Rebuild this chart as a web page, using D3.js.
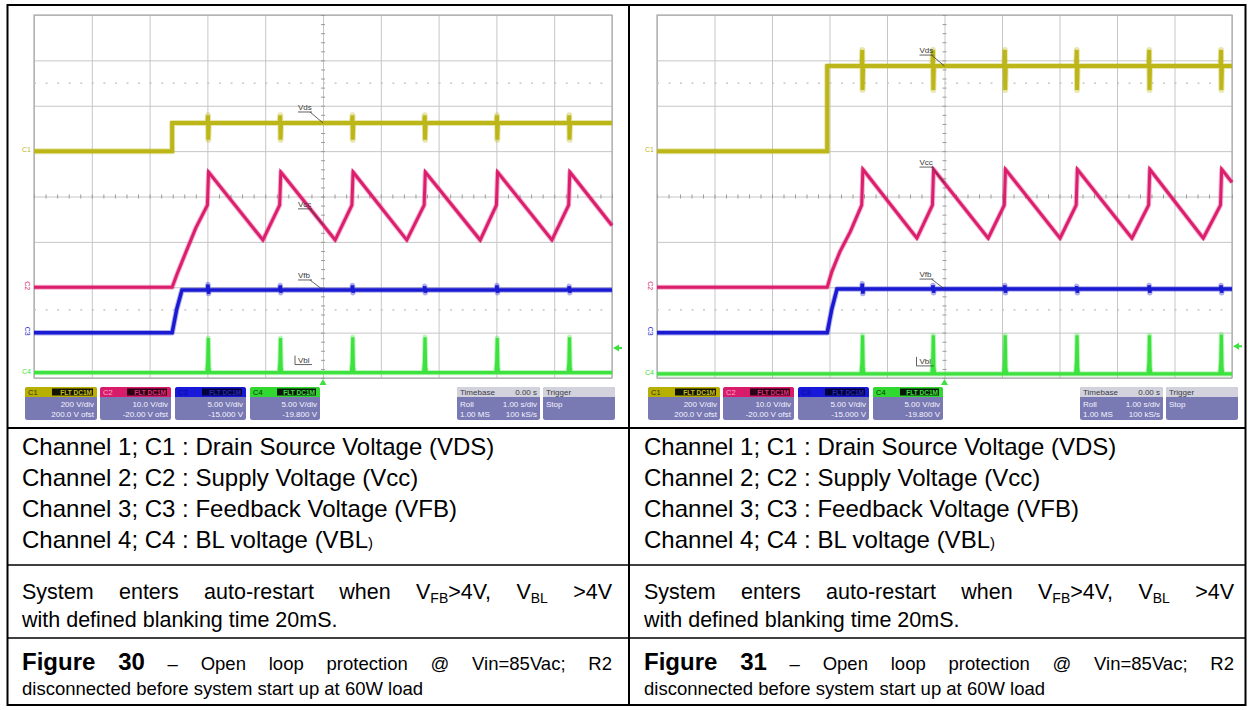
<!DOCTYPE html>
<html><head><meta charset="utf-8">
<script src="https://cdn.jsdelivr.net/npm/d3@7/dist/d3.min.js"></script>
<style>html,body{margin:0;padding:0;background:#fff;} svg{display:block;}</style>
</head><body>
<svg id="chart" width="1248" height="710"></svg>
<script>
// ---------------- data ----------------
const channelIds = ["C1", "C2", "C3", "C4"];
const traceNames = ["Vds", "Vcc", "Vfb", "Vbl"];
const voltsPerDiv = [200, 10, 5, 5];
const offsetVolts = [200, -20, -15, -19.8];
const scaleLabels = ["200 V/div", "10.0 V/div", "5.00 V/div", "5.00 V/div"];
const offsetLabels = ["200.0 V ofst", "-20.00 V ofst", "-15.000 V", "-19.800 V"];
const couplingLabel = "FLT DC1M";
const timebaseLabels = ["Timebase", "0.00 s", "Roll", "1.00 s/div", "1.00 MS", "100 kS/s"];
const triggerLabels = ["Trigger", "Stop"];
const timeTicks = [0, 1, 2, 3, 4, 5, 6, 7, 8, 9, 10];   // seconds (1 s/div)
const divTicks = [-4, -3, -2, -1, 0, 1, 2, 3, 4];
const markerTime = 5;                                   // cursor/label time
const figureNumbers = ["30", "31"];
const triggerLevels = [3.1, 3.3];                       // C4 volts

// Figure 30  [time s, volts]
const fig30Vds = [[0,0],[2.39,0],[2.39,124],
  [3.00,124],[3.01,158],[3.015,50],[3.025,124],
  [4.25,124],[4.26,158],[4.265,50],[4.275,124],
  [5.50,124],[5.51,158],[5.515,50],[5.525,124],
  [6.75,124],[6.76,158],[6.765,50],[6.775,124],
  [8.00,124],[8.01,158],[8.015,50],[8.025,124],
  [9.25,124],[9.26,158],[9.265,50],[9.275,124],
  [10,124]];
const fig30Vcc = [[0,0],[2.39,0],[2.49,3.4],[2.63,7.8],[2.80,13.1],[3.00,18.1],[3.02,25.4],
  [3.96,10.4],[4.25,18.1],[4.27,25.4],
  [5.21,10.4],[5.50,18.1],[5.52,25.4],
  [6.45,10.4],[6.75,18.1],[6.77,25.4],
  [7.72,10.4],[8.00,18.1],[8.02,25.4],
  [8.96,10.4],[9.25,18.1],[9.27,25.4],
  [10,13.6]];
const fig30Vfb = [[0,0],[2.39,0],[2.47,2.6],[2.56,4.7],
  [3.00,4.7],[3.01,5.3],[3.02,4.3],[3.03,4.7],
  [4.25,4.7],[4.26,5.2],[4.27,4.4],[4.28,4.7],
  [5.50,4.7],[5.51,5.2],[5.52,4.4],[5.53,4.7],
  [6.75,4.7],[6.76,5.1],[6.77,4.4],[6.78,4.7],
  [8.00,4.7],[8.01,5.2],[8.02,4.4],[8.03,4.7],
  [9.25,4.7],[9.26,5.1],[9.27,4.4],[9.28,4.7],
  [10,4.7]];
const fig30Vbl = [[0,0.4],
  [2.99,0.4],[3.005,1.5],[3.015,4.2],[3.025,1.0],[3.04,0.4],
  [4.24,0.4],[4.255,1.5],[4.265,4.2],[4.275,1.0],[4.29,0.4],
  [5.49,0.4],[5.505,1.5],[5.515,4.3],[5.525,1.0],[5.54,0.4],
  [6.74,0.4],[6.755,1.5],[6.765,4.3],[6.775,1.0],[6.79,0.4],
  [7.99,0.4],[8.005,1.5],[8.015,4.2],[8.025,1.0],[8.04,0.4],
  [9.24,0.4],[9.255,1.5],[9.265,4.3],[9.275,1.0],[9.29,0.4],
  [10,0.4]];

// Figure 31  [time s, volts]
const fig31Vds = [[0,0],[2.96,0],[2.96,375],
  [3.56,375],[3.57,446],[3.575,270],[3.585,375],
  [4.79,375],[4.80,446],[4.805,270],[4.815,375],
  [6.04,375],[6.05,446],[6.055,270],[6.065,375],
  [7.29,375],[7.30,446],[7.305,270],[7.315,375],
  [8.55,375],[8.56,446],[8.565,270],[8.575,375],
  [9.80,375],[9.81,446],[9.815,270],[9.825,375],
  [10,375]];
const fig31Vcc = [[0,0],[2.96,0],[3.04,3.4],[3.18,7.8],[3.36,12.2],[3.56,18.1],[3.58,26.0],
  [4.52,10.8],[4.79,18.1],[4.81,26.0],
  [5.76,10.8],[6.04,18.1],[6.06,26.0],
  [7.01,10.8],[7.29,18.1],[7.31,26.0],
  [8.26,10.8],[8.55,18.1],[8.57,26.0],
  [9.50,10.8],[9.80,18.1],[9.82,26.0],
  [10,23.1]];
const fig31Vfb = [[0,0],[2.96,0],[3.04,2.6],[3.13,4.8],
  [3.56,4.8],[3.57,5.4],[3.58,4.3],[3.59,4.8],
  [4.79,4.8],[4.80,5.2],[4.81,4.4],[4.82,4.8],
  [6.04,4.8],[6.05,5.2],[6.06,4.4],[6.07,4.8],
  [7.29,4.8],[7.30,5.1],[7.31,4.4],[7.32,4.8],
  [8.55,4.8],[8.56,5.2],[8.57,4.4],[8.58,4.8],
  [9.80,4.8],[9.81,5.2],[9.82,4.4],[9.83,4.8],
  [10,4.8]];
const fig31Vbl = [[0,0.25],
  [3.55,0.25],[3.565,1.5],[3.575,4.5],[3.585,1.0],[3.60,0.25],
  [4.78,0.25],[4.795,1.5],[4.805,4.5],[4.815,1.0],[4.83,0.25],
  [6.03,0.25],[6.045,1.5],[6.055,4.5],[6.065,1.0],[6.08,0.25],
  [7.28,0.25],[7.295,1.5],[7.305,4.5],[7.315,1.0],[7.33,0.25],
  [8.54,0.25],[8.555,1.5],[8.565,4.5],[8.575,1.0],[8.59,0.25],
  [9.79,0.25],[9.805,1.5],[9.815,4.6],[9.825,1.0],[9.84,0.25],
  [10,0.25]];

const channelLines = [
  "Channel 1; C1 : Drain Source Voltage (VDS)",
  "Channel 2; C2 : Supply Voltage (Vcc)",
  "Channel 3; C3 : Feedback Voltage (VFB)",
  "Channel 4; C4 : BL voltage (VBL"
];
const closingParen = ")";
const systemWords = ["System", "enters", "auto-restart", "when"];
const secondSystemLine = "with defined blanking time 20mS.";
const captionWords = ["Open", "loop", "protection", "@", "Vin=85Vac;", "R2"];
const captionLine2 = "disconnected before system start up at 60W load";

// ---------------- style ----------------
const FONT = "'Liberation Sans', Arial, Helvetica, sans-serif";
const traceColors = ["#bdb619", "#dc1e6e", "#1a1ad2", "#3ee23e"];
const traceWidths = [4, 3, 3.5, 3.2];
const hdrColors = ["#b8b000", "#d81b6a", "#1818d8", "#30d830"];
const boxColors = ["#141400", "#2a0012", "#00003a", "#081808"];
const boxTextColors = ["#c8c020", "#e0307e", "#2a2ab0", "#40e040"];
const hdrTextColors = ["#30300a", "#f6b0cc", "#0a0a90", "#0a300a"];
const BODY = "#7979b3";
const GY0 = 15, GY1 = 378;

const svg = d3.select("#chart");
svg.append("rect").attr("width", 1248).attr("height", 710).attr("fill", "#fff");

const figures = [
  { gx0: 34, gx1: 612, tx0: 22, tx1: 612, traces: [fig30Vds, fig30Vcc, fig30Vfb, fig30Vbl], trig: triggerLevels[0], num: figureNumbers[0] },
  { gx0: 657, gx1: 1232, tx0: 644, tx1: 1234, traces: [fig31Vds, fig31Vcc, fig31Vfb, fig31Vbl], trig: triggerLevels[1], num: figureNumbers[1] }
];

function valueAt(tr, t) {
  for (let i = 1; i < tr.length; i++) {
    if (tr[i][0] >= t) {
      const a = tr[i - 1], b = tr[i];
      const f = b[0] === a[0] ? 1 : (t - a[0]) / (b[0] - a[0]);
      return a[1] + f * (b[1] - a[1]);
    }
  }
  return tr[tr.length - 1][1];
}

function drawScope(f) {
  const x = d3.scaleLinear().domain([timeTicks[0], timeTicks[timeTicks.length - 1]]).range([f.gx0, f.gx1]);
  const dv = d3.scaleLinear().domain([-4, 4]).range([GY1, GY0]);
  const g = svg.append("g");
  const W = f.gx1 - f.gx0, H = GY1 - GY0;

  // grid via axes
  g.append("g").attr("transform", `translate(0,${GY1})`)
    .call(d3.axisBottom(x).tickValues(timeTicks).tickSize(-H).tickFormat(""))
    .call(a => a.select(".domain").remove())
    .call(a => a.selectAll("line").attr("stroke", "#c6c6c6").attr("stroke-width", 1));
  g.append("g").attr("transform", `translate(${f.gx0},0)`)
    .call(d3.axisLeft(dv).tickValues(divTicks).tickSize(-W).tickFormat(""))
    .call(a => a.select(".domain").remove())
    .call(a => a.selectAll("line").attr("stroke", "#c6c6c6").attr("stroke-width", 1));
  g.append("rect").attr("x", f.gx0).attr("y", GY0).attr("width", W).attr("height", H)
    .attr("fill", "none").attr("stroke", "#aaaaaa").attr("stroke-width", 1.2);

  // dotted reference lines
  [-2.5, 2.5].forEach(v => {
    g.append("line").attr("x1", f.gx0).attr("x2", f.gx1).attr("y1", dv(v)).attr("y2", dv(v))
      .attr("stroke", "#bdbdbd").attr("stroke-width", 1.2).attr("stroke-dasharray", `2,${W / 50 - 2}`);
  });

  // center minor ticks
  g.append("g").attr("transform", `translate(0,${dv(0) + 2})`)
    .call(d3.axisTop(x).ticks(50).tickSize(4).tickFormat(""))
    .call(a => a.select(".domain").remove())
    .call(a => a.selectAll("line").attr("stroke", "#9a9a9a"));
  g.append("g").attr("transform", `translate(${x(markerTime) - 2},0)`)
    .call(d3.axisRight(dv).ticks(40).tickSize(4).tickFormat(""))
    .call(a => a.select(".domain").remove())
    .call(a => a.selectAll("line").attr("stroke", "#9a9a9a"));

  // traces
  const yScales = voltsPerDiv.map((vd, c) =>
    d3.scaleLinear().domain([-4 * vd - offsetVolts[c], 4 * vd - offsetVolts[c]]).range([GY1, GY0]));
  f.traces.forEach((tr, c) => {
    const line = d3.line().x(d => x(d[0])).y(d => yScales[c](d[1]));
    g.append("path").datum(tr).attr("d", line).attr("fill", "none")
      .attr("stroke", traceColors[c]).attr("stroke-opacity", 0.35)
      .attr("stroke-width", traceWidths[c] + 2).attr("stroke-linejoin", "round");
    g.append("path").datum(tr).attr("d", line).attr("fill", "none")
      .attr("stroke", traceColors[c]).attr("stroke-width", traceWidths[c])
      .attr("stroke-linejoin", "miter");
  });

  // channel ground markers at left
  channelIds.forEach((id, c) => {
    const yy = yScales[c](f.traces[c][0][1]);
    const t = g.append("text").text(id).attr("font-family", FONT).attr("font-size", 7)
      .attr("fill", traceColors[c]);
    if (c === 1 || c === 2) {
      t.attr("transform", `translate(${f.gx0 - 9},${yy - 6}) rotate(90)`);
    } else {
      t.attr("x", f.gx0 - 12).attr("y", yy + 1);
    }
  });

  // annotations
  const xc = x(markerTime);
  const labelOffsets = [-13, -18, -12, -10];
  traceNames.forEach((nm, c) => {
    const yT = yScales[c](valueAt(f.traces[c], markerTime));
    const by = yT + labelOffsets[c];
    g.append("text").text(nm).attr("x", xc - 25).attr("y", by)
      .attr("font-family", FONT).attr("font-size", 8).attr("fill", "#3a3a3a");
    if (c === 3) {
      g.append("path").attr("d", `M${xc - 28},${by - 7}V${by + 2}H${xc - 11}`)
        .attr("fill", "none").attr("stroke", "#3a3a3a").attr("stroke-width", 0.8);
    } else {
      g.append("line").attr("x1", xc - 25).attr("x2", xc - 11).attr("y1", by + 2).attr("y2", by + 2)
        .attr("stroke", "#3a3a3a").attr("stroke-width", 0.8);
      g.append("line").attr("x1", xc - 13).attr("y1", by + 2).attr("x2", xc).attr("y2", yT)
        .attr("stroke", "#3a3a3a").attr("stroke-width", 0.8);
    }
  });

  // trigger markers
  const yTrig = yScales[3](f.trig);
  g.append("path").attr("d", `M${f.gx1 + 1},${yTrig}l6,-3.5v7z`).attr("fill", traceColors[3]);
  g.append("line").attr("x1", f.gx1 + 6).attr("x2", f.gx1 + 10).attr("y1", yTrig).attr("y2", yTrig)
    .attr("stroke", traceColors[3]).attr("stroke-width", 2);
  g.append("path").attr("d", `M${xc},${GY1 + 1}l-3.5,6h7z`).attr("fill", traceColors[3]);

  // info panels
  const py = 387, hh = 10, ph = 33;
  const chanX = [-9, 66, 141, 216], chanW = [72, 71, 71, 70];
  channelIds.forEach((id, c) => {
    const px = f.gx0 + chanX[c], w = chanW[c];
    g.append("rect").attr("x", px).attr("y", py).attr("width", w).attr("height", ph).attr("rx", 2.5).attr("fill", BODY);
    g.append("path").attr("d", `M${px},${py + hh}V${py + 2.5}q0,-2.5 2.5,-2.5H${px + w - 2.5}q2.5,0 2.5,2.5V${py + hh}z`)
      .attr("fill", hdrColors[c]);
    g.append("rect").attr("x", px + 27).attr("y", py + 1.5).attr("width", w - 31).attr("height", hh - 3).attr("fill", boxColors[c]);
    g.append("text").text(id).attr("x", px + 3).attr("y", py + 8).attr("font-family", FONT).attr("font-size", 7.5).attr("fill", hdrTextColors[c]);
    g.append("text").text(couplingLabel).attr("x", px + w - 5).attr("y", py + 7.6).attr("text-anchor", "end")
      .attr("font-family", FONT).attr("font-size", 6.5).attr("font-weight", "bold").attr("fill", boxTextColors[c]);
    g.append("text").text(scaleLabels[c]).attr("x", px + w - 3).attr("y", py + 19.5).attr("text-anchor", "end")
      .attr("font-family", FONT).attr("font-size", 8).attr("fill", "#f4f4ff");
    g.append("text").text(offsetLabels[c]).attr("x", px + w - 3).attr("y", py + 29.5).attr("text-anchor", "end")
      .attr("font-family", FONT).attr("font-size", 8).attr("fill", "#f4f4ff");
  });
  // timebase & trigger
  const boxes = [{ dx: 423, w: 83 }, { dx: 509, w: 72 }];
  boxes.forEach((b, i) => {
    const px = f.gx0 + b.dx;
    g.append("rect").attr("x", px).attr("y", py).attr("width", b.w).attr("height", ph).attr("rx", 2.5).attr("fill", BODY);
    g.append("path").attr("d", `M${px},${py + hh}V${py + 2.5}q0,-2.5 2.5,-2.5H${px + b.w - 2.5}q2.5,0 2.5,2.5V${py + hh}z`)
      .attr("fill", "#d2d2dc");
    const tt = (s, xx, yy, anchor, col) => g.append("text").text(s).attr("x", xx).attr("y", yy)
      .attr("text-anchor", anchor).attr("font-family", FONT).attr("font-size", 8).attr("fill", col);
    if (i === 0) {
      tt(timebaseLabels[0], px + 3, py + 8, "start", "#3a3a48");
      tt(timebaseLabels[1], px + b.w - 3, py + 8, "end", "#3a3a48");
      tt(timebaseLabels[2], px + 3, py + 19.5, "start", "#f4f4ff");
      tt(timebaseLabels[3], px + b.w - 3, py + 19.5, "end", "#f4f4ff");
      tt(timebaseLabels[4], px + 3, py + 29.5, "start", "#f4f4ff");
      tt(timebaseLabels[5], px + b.w - 3, py + 29.5, "end", "#f4f4ff");
    } else {
      tt(triggerLabels[0], px + 3, py + 8, "start", "#3a3a48");
      tt(triggerLabels[1], px + 3, py + 19.5, "start", "#f4f4ff");
    }
  });
}

figures.forEach(drawScope);

// ---------------- table ----------------
const T = svg.append("g");
T.append("rect").attr("x", 7.5).attr("y", 5).attr("width", 1238).attr("height", 700)
  .attr("fill", "none").attr("stroke", "#000").attr("stroke-width", 2);
T.append("line").attr("x1", 629).attr("x2", 629).attr("y1", 5).attr("y2", 705).attr("stroke", "#000").attr("stroke-width", 2);
[[428, 2], [565, 1.5], [638, 1.5]].forEach(([yy, sw]) =>
  T.append("line").attr("x1", 7.5).attr("x2", 1245.5).attr("y1", yy).attr("y2", yy).attr("stroke", "#000").attr("stroke-width", sw));

const chanBase = [455, 486, 517, 548];
const sysBase = [599, 627];
const capBase = [670, 695];
const F_CH = 24, F_SYS = 21.5, F_CAP = 18.5, F_FIG = 24;

function justify(words, x0, x1, baseline) {
  const nodes = words.map(segs => {
    const t = T.append("text").attr("y", baseline).attr("font-family", FONT).attr("fill", "#000");
    segs.forEach(s => {
      const ts = t.append("tspan").text(s.t).attr("font-size", s.size);
      if (s.bold) ts.attr("font-weight", "bold");
      if (s.dy) ts.attr("dy", s.dy);
    });
    return t;
  });
  const widths = nodes.map(n => n.node().getComputedTextLength());
  const gap = (x1 - x0 - d3.sum(widths)) / (words.length - 1);
  let xx = x0;
  nodes.forEach((n, i) => { n.attr("x", xx); xx += widths[i] + gap; });
}

figures.forEach(f => {
  channelLines.forEach((s, i) => {
    const t = T.append("text").attr("x", f.tx0).attr("y", chanBase[i]).attr("font-family", FONT)
      .attr("font-size", F_CH).attr("fill", "#000").text(s);
    if (i === 3) t.append("tspan").attr("font-size", 15).text(closingParen);
  });
  const sub = 0.65 * F_SYS;
  const sysWords = systemWords.map(w => [{ t: w, size: F_SYS }]).concat([
    [{ t: "V", size: F_SYS }, { t: "FB", size: sub, dy: 4 }, { t: ">4V,", size: F_SYS, dy: -4 }],
    [{ t: "V", size: F_SYS }, { t: "BL", size: sub, dy: 4 }],
    [{ t: ">4V", size: F_SYS }]
  ]);
  justify(sysWords, f.tx0, f.tx1, sysBase[0]);
  T.append("text").attr("x", f.tx0).attr("y", sysBase[1]).attr("font-family", FONT)
    .attr("font-size", F_SYS).attr("fill", "#000").text(secondSystemLine);

  const capWords = [
    [{ t: "Figure", size: F_FIG, bold: true }],
    [{ t: f.num, size: F_FIG, bold: true }],
    [{ t: "–", size: F_CAP }]
  ].concat(captionWords.map(w => [{ t: w, size: F_CAP }]));
  justify(capWords, f.tx0, f.tx1, capBase[0]);
  T.append("text").attr("x", f.tx0).attr("y", capBase[1]).attr("font-family", FONT)
    .attr("font-size", F_CAP).attr("fill", "#000").text(captionLine2);
});
</script>
</body></html>
